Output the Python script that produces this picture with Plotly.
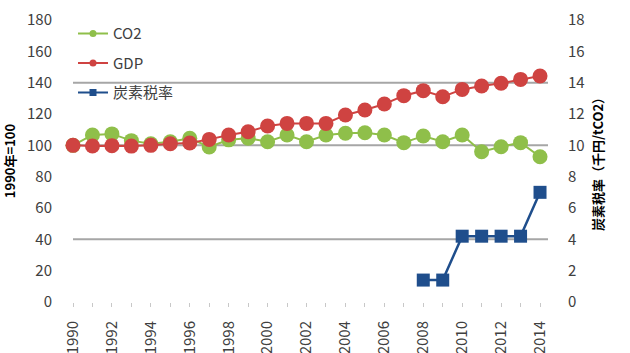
import plotly.graph_objects as go

# Years and series (index 1990 = 100; carbon tax in thousand yen / tCO2)
years = list(range(1990, 2015))
co2 = [100, 106.6, 107.3, 103, 101, 102.3, 104.5, 99, 103.5, 104.5, 102.3, 106.6,
       102.3, 106.6, 107.7, 108, 106.6, 101.7, 106, 102.3, 106.6, 95.9, 99.1, 101.7, 92.7]
gdp = [100, 99.6, 99.8, 99.5, 100, 101, 101.5, 103.8, 106.6, 108.7, 112.3, 114,
       114, 114, 119.4, 122.6, 126.4, 131.7, 134.9, 131, 135.7, 137.9, 139.6, 142.1, 144.3]
tax_years = [2008, 2009, 2010, 2011, 2012, 2013, 2014]
tax = [1.4, 1.4, 4.2, 4.2, 4.2, 4.2, 7.0]

x_ticks = list(range(1990, 2015, 2))
y_left_ticks = list(range(0, 181, 20))
y_right_ticks = list(range(0, 19, 2))
grid_levels = [40, 100, 140]

GREEN = "#8fbf4a"
RED = "#cf4341"
BLUE = "#1f4e8c"
FONT = "Noto Sans CJK JP"

fig = go.Figure()

fig.add_trace(go.Scatter(
    x=years, y=co2, mode="lines+markers", name="CO2", showlegend=False,
    line=dict(color=GREEN, width=2), marker=dict(color=GREEN, size=15),
    cliponaxis=False))
fig.add_trace(go.Scatter(
    x=years, y=gdp, mode="lines+markers", name="GDP", showlegend=False,
    line=dict(color=RED, width=2), marker=dict(color=RED, size=15),
    cliponaxis=False))
fig.add_trace(go.Scatter(
    x=tax_years, y=tax, mode="lines+markers", name="炭素税率", showlegend=False,
    yaxis="y2", line=dict(color=BLUE, width=2.5),
    marker=dict(color=BLUE, size=13, symbol="square"), cliponaxis=False))

# Legend entries with small symbols
for name, color, symbol in [("CO2", GREEN, "circle"), ("GDP", RED, "circle"),
                            ("炭素税率", BLUE, "square")]:
    fig.add_trace(go.Scatter(
        x=[None], y=[None], mode="lines+markers", name=name, legendgroup=name,
        line=dict(color=color, width=2), marker=dict(color=color, size=7, symbol=symbol)))

# Horizontal reference lines
for level in grid_levels:
    fig.add_shape(type="line", xref="paper", x0=0, x1=1, yref="y", y0=level, y1=level,
                  line=dict(color="#a6a6a6", width=2), layer="below")

fig.update_layout(
    width=630, height=353,
    margin=dict(l=73, r=82, t=20, b=51),
    paper_bgcolor="white", plot_bgcolor="white",
    font=dict(family=FONT, size=14, color="#404040"),
    showlegend=True,
    legend=dict(x=0.0, y=1.01, xanchor="left", yanchor="top",
                bgcolor="rgba(0,0,0,0)", tracegroupgap=7,
                font=dict(family=FONT, size=15, color="#404040"),
                traceorder="grouped"),
    xaxis=dict(range=[1990, 2014.41], tickvals=x_ticks, ticktext=[str(v) for v in x_ticks],
               tickangle=-90, ticks="outside", ticklen=4, tickcolor="#c8c8c8",
               ticklabelstandoff=8, showgrid=False, zeroline=False, showline=False,
               automargin=False,
               minor=dict(dtick=1, tick0=1990, ticks="outside", ticklen=4, tickcolor="#c8c8c8"),
               tickfont=dict(family=FONT, size=15, color="#404040")),
    yaxis=dict(range=[0, 180], tickvals=y_left_ticks, showgrid=False, zeroline=False,
               showline=False, ticklabelstandoff=20, automargin=False,
               title=dict(text="1990年=100", standoff=14,
                          font=dict(family=FONT, size=13, color="#000000", weight="bold")),
               tickfont=dict(family=FONT, size=15, color="#404040")),
    yaxis2=dict(range=[0, 18], tickvals=y_right_ticks, overlaying="y", side="right",
                showgrid=False, zeroline=False, showline=False, ticklabelstandoff=19,
                automargin=False,
                title=dict(text="炭素税率（千円/tCO2）", standoff=10,
                           font=dict(family=FONT, size=13, color="#000000", weight="bold")),
                tickfont=dict(family=FONT, size=15, color="#404040")),
)

fig.write_html("out.html")
